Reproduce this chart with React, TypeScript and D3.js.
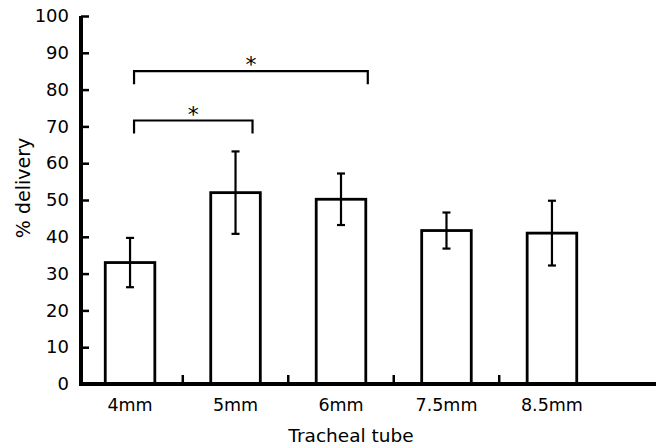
import React, { useRef, useEffect } from 'react';
import * as d3 from 'd3';

const categories = ['4mm', '5mm', '6mm', '7.5mm', '8.5mm'];
const means = [33, 52, 50.2, 41.7, 41];
const errors = [6.7, 11.2, 7, 4.9, 8.8];
const yTicks = [0, 10, 20, 30, 40, 50, 60, 70, 80, 90, 100];
// significance brackets: from category, to category, level (% value), label
const brackets = [
  { from: '4mm', to: '5mm', level: 71.6, label: '*' },
  { from: '4mm', to: '6mm', level: 85, label: '*' },
];

const App = () => {
  const svgRef = useRef(null);

  useEffect(() => {
    const width = 658;
    const height = 447;
    const margin = { top: 16, right: 2, bottom: 63, left: 81 };
    const font = '"DejaVu Sans", Verdana, sans-serif';

    const svg = d3.select(svgRef.current)
      .attr('width', width)
      .attr('height', height)
      .style('position', 'absolute')
      .style('left', 0)
      .style('top', 0);

    svg.selectAll('*').remove();

    const x = d3.scaleBand()
      .domain(categories)
      .range([margin.left, margin.left + 520])
      .paddingInner(0.53)
      .paddingOuter(0.23);

    const y = d3.scaleLinear()
      .domain([0, 100])
      .range([height - margin.bottom, margin.top]);

    const y0 = y(0);

    // bars
    svg.selectAll('.bar')
      .data(categories)
      .enter().append('rect')
      .attr('class', 'bar')
      .attr('x', d => x(d))
      .attr('y', (d, i) => y(means[i]))
      .attr('width', x.bandwidth())
      .attr('height', (d, i) => y0 - y(means[i]))
      .attr('fill', 'white')
      .attr('stroke', 'black')
      .attr('stroke-width', 2.8);

    // error bars
    const cx = d => x(d) + x.bandwidth() / 2;
    const cap = 4;
    categories.forEach((c, i) => {
      const g = svg.append('g').attr('stroke', 'black').attr('stroke-width', 2.2);
      g.append('line')
        .attr('x1', cx(c)).attr('x2', cx(c))
        .attr('y1', y(means[i] + errors[i])).attr('y2', y(means[i] - errors[i]));
      [means[i] + errors[i], means[i] - errors[i]].forEach(v => {
        g.append('line')
          .attr('x1', cx(c) - cap).attr('x2', cx(c) + cap)
          .attr('y1', y(v)).attr('y2', y(v));
      });
    });

    // brackets
    brackets.forEach((b, i) => {
      const x1 = cx(b.from) + 4;
      const x2 = i === 0 ? cx(b.to) + 17 : x(b.to) + x.bandwidth() + 2;
      const yl = y(b.level);
      svg.append('path')
        .attr('d', `M${x1},${yl + 13}V${yl}H${x2}V${yl + 13}`)
        .attr('fill', 'none')
        .attr('stroke', 'black')
        .attr('stroke-width', 2.2);
      svg.append('text')
        .attr('x', (x1 + x2) / 2)
        .attr('y', yl + 1)
        .attr('text-anchor', 'middle')
        .style('font-family', font)
        .style('font-size', '22px')
        .text(b.label);
    });

    // y axis
    const yAxis = svg.append('g')
      .attr('transform', `translate(${margin.left},0)`)
      .call(d3.axisLeft(y).tickValues(yTicks).tickSize(-8).tickPadding(12));
    yAxis.select('.domain').attr('stroke', 'black').attr('stroke-width', 4)
      .attr('d', `M0,${y(100)}V${y0 + 2}`);
    yAxis.selectAll('.tick line').attr('stroke', 'black').attr('stroke-width', 2.5);
    yAxis.selectAll('.tick text')
      .style('font-family', font)
      .style('font-size', '18px')
      .attr('fill', 'black');

    // x axis line
    svg.append('line')
      .attr('x1', margin.left - 2).attr('x2', width - 2)
      .attr('y1', y0).attr('y2', y0)
      .attr('stroke', 'black').attr('stroke-width', 4);

    // category boundary ticks
    const step = x.step();
    svg.selectAll('.xtick')
      .data(categories.slice(1))
      .enter().append('line')
      .attr('class', 'xtick')
      .attr('x1', d => x(d) - (step - x.bandwidth()) / 2)
      .attr('x2', d => x(d) - (step - x.bandwidth()) / 2)
      .attr('y1', y0).attr('y2', y0 - 9)
      .attr('stroke', 'black').attr('stroke-width', 2.5);

    // x labels
    svg.selectAll('.xlabel')
      .data(categories)
      .enter().append('text')
      .attr('class', 'xlabel')
      .attr('x', d => cx(d))
      .attr('y', y0 + 27)
      .attr('text-anchor', 'middle')
      .style('font-family', font)
      .style('font-size', '17.5px')
      .text(d => d);

    svg.append('text')
      .attr('x', 351)
      .attr('y', 442)
      .attr('text-anchor', 'middle')
      .style('font-family', font)
      .style('font-size', '18.5px')
      .text('Tracheal tube');

    svg.append('text')
      .attr('transform', `translate(30,${188}) rotate(-90)`)
      .attr('text-anchor', 'middle')
      .style('font-family', font)
      .style('font-size', '19px')
      .text('% delivery');
  }, []);

  return <svg ref={svgRef}></svg>;
};

export default App;
